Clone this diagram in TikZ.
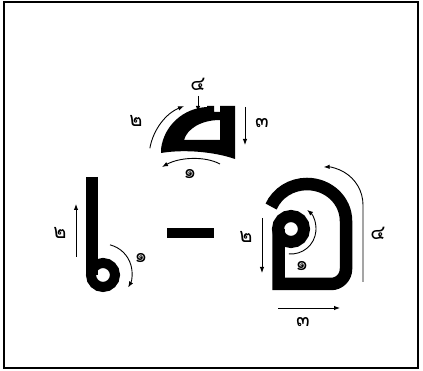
\documentclass[tikz,border=0pt]{standalone}
\usepackage{fontspec}
\newfontfamily\thaifont[Script=Thai]{Loma}
\usetikzlibrary{arrows.meta,calc}
\begin{document}
\begin{tikzpicture}[x=1pt,y=1pt,
  arr/.style={-{Latex[length=6pt,width=4.5pt]}, line width=0.9pt},
  glyph/.style={line width=#1, line cap=butt, line join=miter},
  num/.style={font=\thaifont\fontsize{20}{20}\selectfont, inner sep=0pt}]
\useasboundingbox (0,0) rectangle (423,371);
\draw[line width=1.6pt] (4,3) rectangle (418,369);

% ---- top mark ----
\fill[even odd rule] (161,222) .. controls (164,246) and (184,263) .. (207,264)
  -- (207,265) -- (214,265) -- (214,259) -- (220,259) -- (220,265) -- (235,265)
  -- (235,212) .. controls (215,219) and (185,222) .. (161,218) -- cycle
  (184,231) -- (220,231) -- (220,251) .. controls (201,251) and (187,242) .. (184,231) -- cycle;
\coordinate (t4a) at (198,275); \coordinate (t4b) at (198,259);
\coordinate (t3a) at (245,264); \coordinate (t3b) at (245,226);
\coordinate (t2c) at (205,213);
\coordinate (t1a) at (220,207); \coordinate (t1b) at (162,204);
\draw[arr] (t4a) -- (t4b);
\draw[arr] (t3a) -- (t3b);
\draw[arr] ($(t2c)+(170:56)$) arc[start angle=170,end angle=112,radius=56];
\draw[arr] (t1a) .. controls (205,215) and (180,214) .. (t1b);
\node[num] (l4t) at (198,287) {๔};
\node[num] (l3t) at (262,248) {๓};
\node[num] (l2t) at (136,250) {๒};
\node[num] (l1t) at (190,197) {๑};

% ---- sara e ----
\coordinate (ec) at (103,96);
\draw[glyph=12pt] (92,194) -- (92,96);
\draw[line width=10pt] (ec) circle[radius=12];
\coordinate (e2a) at (76,114); \coordinate (e2b) at (76,167);
\draw[arr] (e2a) -- (e2b);
\draw[arr] ($(103,98)+(76:29)$) arc[start angle=76,end angle=-30,radius=29];
\node[num] (l2e) at (60,138) {๒};
\node[num] (l1e) at (141,113) {๑};

% ---- dash ----
\fill (167,133) rectangle (214,143);

% ---- o ang ----
\coordinate (oc) at (291,142);
\draw[glyph=12.5pt] (278.5,142) -- (278.5,87) -- (331,87) arc[start angle=-90,end angle=0,radius=15]
  -- (346,150) arc[start angle=0,end angle=157,x radius=39,y radius=37];
\draw[line width=12pt] (oc) circle[radius=13];
\coordinate (o2a) at (262,153); \coordinate (o2b) at (262,98);
\coordinate (o3a) at (278,63); \coordinate (o3b) at (340,63);
\coordinate (o4a) at (363,89); \coordinate (o4b) at (363,166);
\draw[arr] (o2a) -- (o2b);
\draw[arr] ($(oc)+(-95:25)$) arc[start angle=-95,end angle=50,radius=25];
\draw[arr] (o3a) -- (o3b);
\draw[arr] (o4a) -- (o4b) arc[start angle=0,end angle=92,radius=38];
\node[num] (l2o) at (246,134) {๒};
\node[num] (l1o) at (302,105) {๑};
\node[num] (l3o) at (303,49) {๓};
\node[num] (l4o) at (378,138) {๔};
\end{tikzpicture}
\end{document}
